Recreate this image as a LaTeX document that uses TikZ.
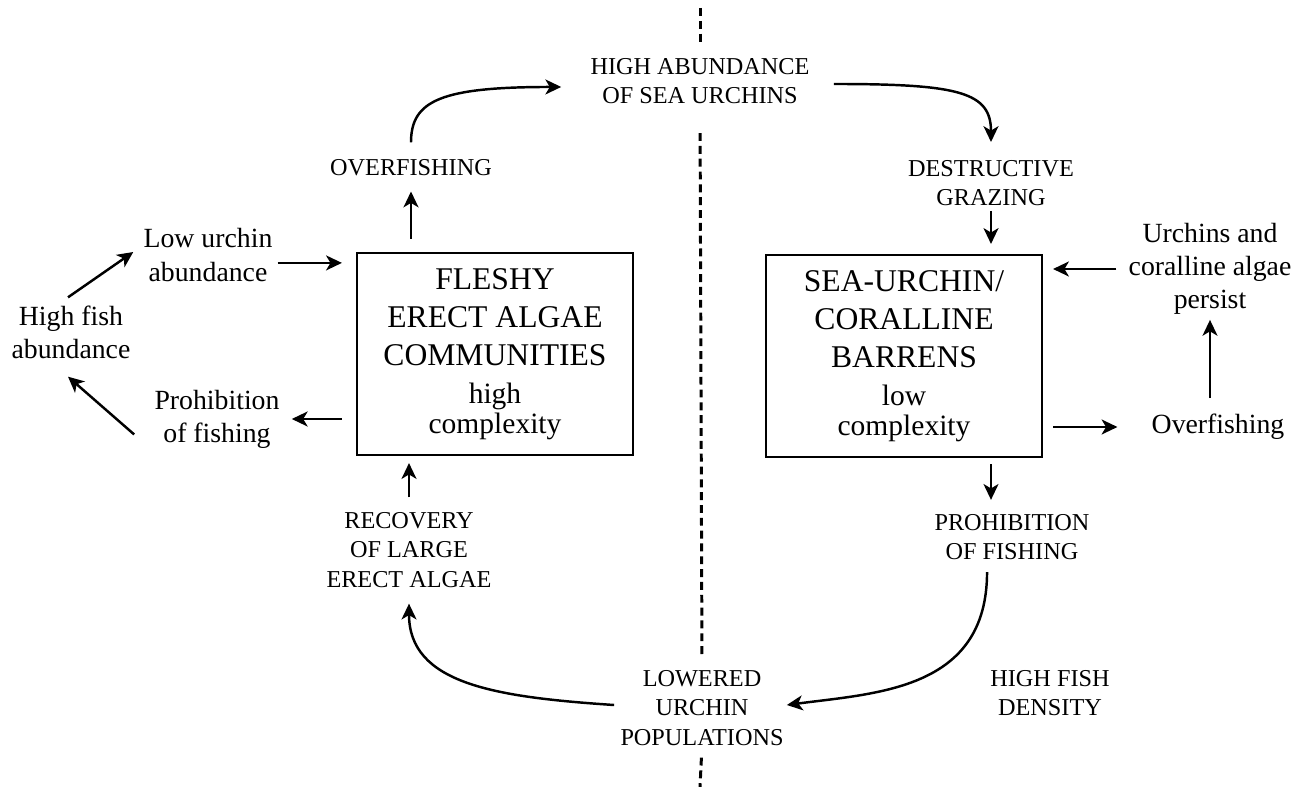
\documentclass[tikz,border=0pt]{standalone}
\usepackage{fontspec}
\setmainfont{Liberation Serif}
\usetikzlibrary{positioning,arrows.meta}

\begin{document}
\begin{tikzpicture}[x=0.02cm, y=-0.02cm, >={Stealth[length=9pt,width=8.5pt,inset=2.5pt]},
    community/.style={draw, line width=1.2pt, minimum width=5.52cm, minimum height=4.04cm, inner sep=0pt, align=center, font=\fontsize{18}{21.6}\selectfont},
    event/.style={inner sep=0pt, align=center, font=\fontsize{13.8}{16.6}\selectfont},
    note/.style={inner sep=0pt, align=center, font=\fontsize{15.8}{18.8}\selectfont},
    flow/.style={->, line width=1.4pt},
    divider/.style={line width=1.7pt, dash pattern=on 4.5pt off 2.8pt}]

\useasboundingbox (0,0) rectangle (1309,787);

% Communities
\node[community] (fleshy) at (495,354) {FLESHY\\ERECT ALGAE\\COMMUNITIES\\\fontsize{16.8}{18}\selectfont high\\[-4.6pt]\fontsize{16.8}{18}\selectfont complexity};
\node[community] (barrens) at (904,356) {SEA-URCHIN/\\CORALLINE\\BARRENS\\\fontsize{16.8}{18}\selectfont low\\[-4.6pt]\fontsize{16.8}{18}\selectfont complexity};

% Events
\node[event] (urchins) at (700,81) {HIGH ABUNDANCE\\OF SEA URCHINS};
\node[event] (overfish) at (411,168) {OVERFISHING};
\node[event] (recovery) at (409,550) {RECOVERY\\OF LARGE\\ERECT ALGAE};
\node[event] (lowered) at (702,708) {LOWERED\\URCHIN\\POPULATIONS};
\node[event] (grazing) at (991,183) {DESTRUCTIVE\\GRAZING};
\node[event] (protect) at (1012,537) {PROHIBITION\\OF FISHING};
\node[event] (density) at (1050,693) {HIGH FISH\\DENSITY};

% Notes
\node[note] (lowurch) at (208,255) {Low urchin\\abundance};
\node[note] (highfish) at (71,332) {High fish\\abundance};
\node[note] (prohib) at (217,419) {Prohibition\\of fishing};
\node[note] (persist) at (1210,269) {Urchins and\\coralline algae\\persist};
\node[note] (overfishing) at (1218,427) {Overfishing};

% Divider
\coordinate (divtop) at (700,8);
\coordinate (divbot) at (700,787);
\draw[divider, shorten >=7.4pt] (divtop) -- (urchins.north);
\draw[divider, shorten <=16.5pt, shorten >=9pt] (urchins.south) -- (lowered.north);
\draw[divider, shorten <=6.8pt] (lowered.south) -- (divbot);

% Cycle
\draw[flow, shorten <=7.4pt, shorten >=8.5pt] (fleshy.north -| overfish) -- (overfish.south);
\draw[flow] ([yshift=9.7pt]overfish.north) .. controls +(0,-42) and +(-120,0) .. ([xshift=-16.5pt,yshift=-3.4pt]urchins.west);
\draw[flow] ([xshift=13.7pt,yshift=-1.7pt]urchins.east) .. controls +(125,0) and +(0,-50) .. ([yshift=10.2pt]grazing.north);
\draw[flow, shorten <=2.8pt, shorten >=5.7pt] (grazing.south) -- (barrens.north -| grazing);
\draw[flow, shorten <=3.4pt, shorten >=8pt] (barrens.south -| grazing) -- (protect.north -| grazing);
\draw[flow] ([xshift=-14.2pt,yshift=-6.8pt]protect.south) .. controls +(0,118) and +(90,-12) .. ([xshift=1.7pt,yshift=1.7pt]lowered.east);
\draw[flow] ([xshift=-3.4pt,yshift=1.7pt]lowered.west) .. controls +(-120,-8) and +(0,80) .. ([yshift=-9.1pt]recovery.south);
\draw[flow, shorten <=8.5pt, shorten >=4pt] (recovery.north) -- (fleshy.south -| recovery);

% Left side
\draw[flow, shorten <=2.8pt, shorten >=8pt] ([yshift=-4.5pt]lowurch.east) -- ([yshift=-4.5pt]lowurch.east -| fleshy.west);
\draw[flow, shorten <=8pt, shorten >=6.8pt] (fleshy.west |- prohib.east) -- (prohib.east);
\draw[flow] ([xshift=-11.4pt,yshift=8pt]prohib.south west) -- ([xshift=-1.7pt,yshift=-10.2pt]highfish.south);
\draw[flow] ([xshift=-1.7pt,yshift=4.5pt]highfish.north) -- ([xshift=-5.7pt,yshift=1.7pt]lowurch.west);

% Right side
\draw[flow, shorten <=6.8pt, shorten >=5.7pt] (persist.west) -- (persist.west -| barrens.east);
\draw[flow, shorten <=5.7pt, shorten >=19.3pt] (barrens.east |- overfishing.west) -- (overfishing.west);
\draw[flow, shorten <=9pt, shorten >=2.8pt] (overfishing.north -| persist) -- (persist.south);

\end{tikzpicture}
\end{document}
